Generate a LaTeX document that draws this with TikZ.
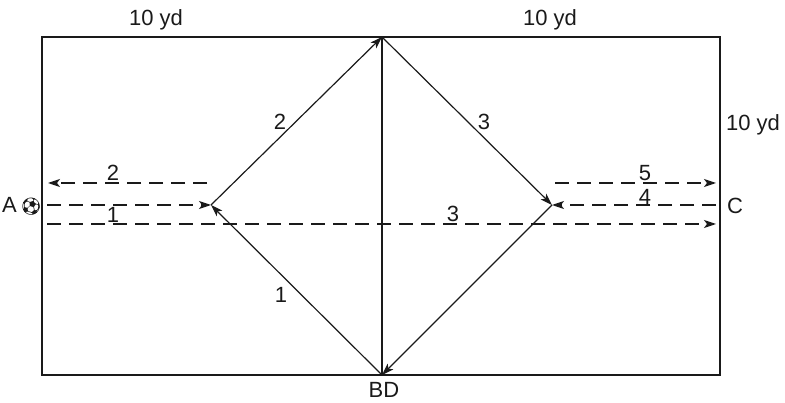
\documentclass[tikz,border=0pt]{standalone}
\usepackage{fontspec}
\setmainfont{Liberation Sans}
\newfontfamily\emojifont{Noto Emoji}
\usetikzlibrary{arrows.meta, positioning}
\definecolor{fieldInk}{HTML}{1A1A1A}

\tikzset{
  run/.style={-{Stealth[length=12pt,width=8pt,inset=3pt]}, line width=1.2pt, fieldInk},
  pass/.style={run, dash pattern=on 14pt off 8pt},
  lbl/.style={font=\fontsize{22}{25}\selectfont, inner sep=0pt, fieldInk},
}

\begin{document}
\begin{tikzpicture}[x=1pt, y=-1pt]
    \useasboundingbox (0,0) rectangle (785,403);
    % field
    \draw[line width=1.7pt, fieldInk] (42,37) rectangle (720,375);
    \coordinate (top) at (382,37);
    \coordinate (bot) at (382,375);
    \coordinate (lft) at (211,205);
    \coordinate (rgt) at (552,205);
    \draw[line width=1.5pt, fieldInk] (top) -- (bot);

    % runs round the diamond
    \draw[run] (bot) -- (lft);
    \draw[run] (lft) -- (top);
    \draw[run] (top) -- (rgt);
    \draw[run] (rgt) -- (bot);

    % ends of the passes
    \foreach \name/\x/\y in {l1/47/205, l2/48/183, l3/47/224, m2/207/183,
                             r3/716/224, r4/716/205, r5/716/183, m5/555/183} {
      \coordinate (\name) at (\x,\y);
    }
    \draw[pass] (m2) -- (l2);
    \draw[pass] (l1) -- (lft);
    \draw[pass] (l3) -- (r3);
    \draw[pass] (m5) -- (r5);
    \draw[pass] (r4) -- (rgt);

    % texts
    \node[lbl] (ydL) at (156,20) {10 yd};
    \node[lbl] (ydR) at (550,20) {10 yd};
    \node[lbl] (ydS) at (753,125) {10 yd};
    \node[lbl] (A) at (22,206) {A\,{\emojifont\fontsize{17}{17}\selectfont ⚽}};
    \node[lbl] (C) at (735,206) {C};
    \node[lbl] (BD) at (384,390) {BD};
    \foreach \name/\x/\y/\t in {n2/280/122/2, n3/484/122/3, n1/281/295/1,
                                p2/113/173/2, p1/113/215/1, p3/453/214/3,
                                p5/645/173/5, p4/645/197/4} {
      \node[lbl] (\name) at (\x,\y) {\t};
    }
\end{tikzpicture}
\end{document}
